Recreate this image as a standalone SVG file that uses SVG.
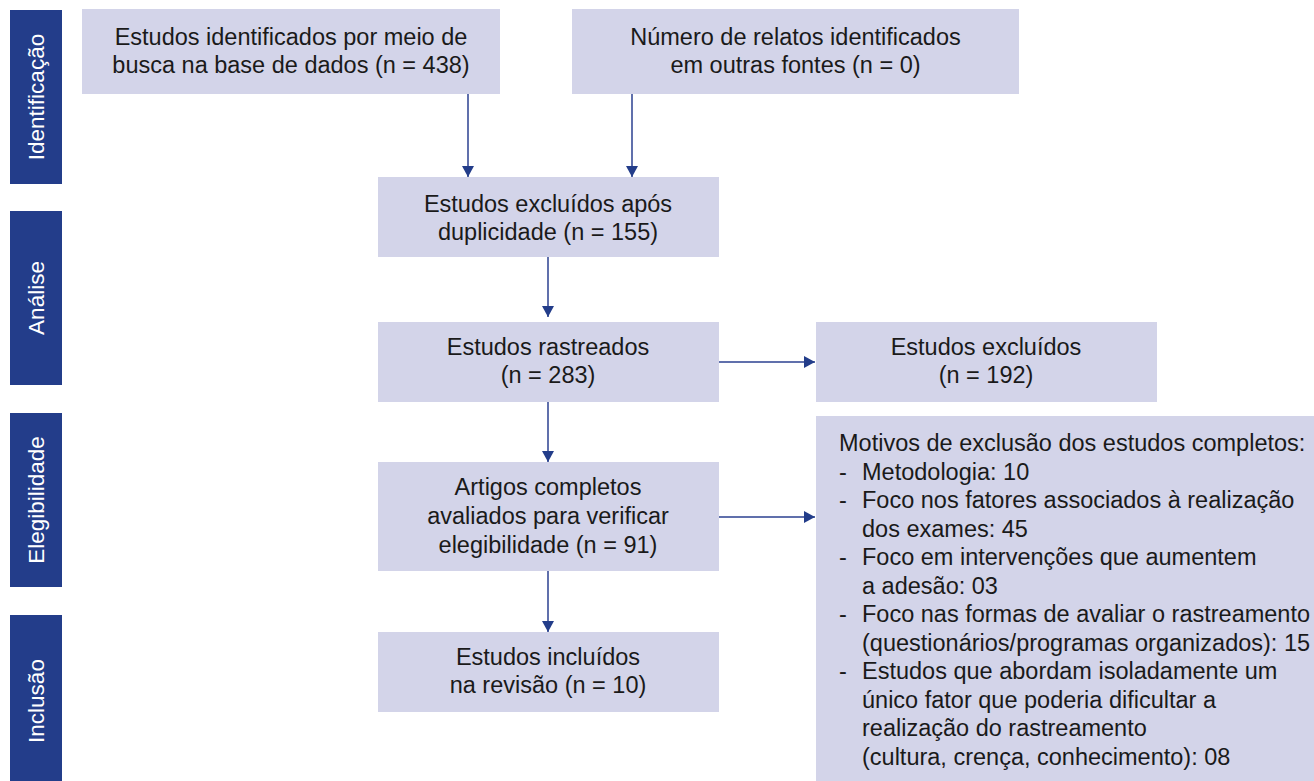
<svg xmlns="http://www.w3.org/2000/svg" width="1314" height="781" viewBox="0 0 1314 781">
<style>
.side{fill:#233d8a}
.stxt{font-family:"Liberation Sans",Arial,sans-serif;font-size:22.5px;fill:#ffffff;text-anchor:middle}
.box{fill:#d3d4e9}
.t{font-family:"Liberation Sans",Arial,sans-serif;font-size:23.5px;fill:#1a1a1a;text-anchor:middle}
.tl{font-family:"Liberation Sans",Arial,sans-serif;font-size:23.5px;fill:#1a1a1a}
.c{stroke:#2b4190;stroke-width:1.5;fill:none;marker-end:url(#ah)}
</style>
<defs>
<marker id="ah" markerUnits="userSpaceOnUse" markerWidth="12" markerHeight="12" refX="11" refY="6" orient="auto">
<path d="M0,0 L11,6 L0,12 Z" fill="#233d8a"/>
</marker>
</defs>
<rect width="1314" height="781" fill="#ffffff"/>
<g id="stage-identificacao"><rect class="side" x="10" y="10" width="52" height="174"/><text class="stxt" transform="translate(44,97) rotate(-90)">Identificação</text></g>
<g id="stage-analise"><rect class="side" x="10" y="211" width="52" height="174"/><text class="stxt" transform="translate(44,298) rotate(-90)">Análise</text></g>
<g id="stage-elegibilidade"><rect class="side" x="10" y="413" width="52" height="174"/><text class="stxt" transform="translate(44,500) rotate(-90)">Elegibilidade</text></g>
<g id="stage-inclusao"><rect class="side" x="10" y="615" width="52" height="172"/><text class="stxt" transform="translate(44,701) rotate(-90)">Inclusão</text></g>
<g id="connectors">
<line class="c" x1="468" y1="94" x2="468" y2="177"/>
<line class="c" x1="632" y1="94" x2="632" y2="177"/>
<line class="c" x1="548" y1="257" x2="548" y2="317"/>
<line class="c" x1="548" y1="402" x2="548" y2="462"/>
<line class="c" x1="548" y1="571" x2="548" y2="632"/>
<line class="c" x1="718" y1="362" x2="815" y2="362"/>
<line class="c" x1="718" y1="517" x2="815" y2="517"/>
</g>
<g id="n-busca"><rect class="box" x="82" y="9" width="418" height="85"/><text class="t" x="291" y="45">Estudos identificados por meio de</text><text class="t" x="291" y="73">busca na base de dados (n = 438)</text></g>
<g id="n-outras"><rect class="box" x="572" y="9" width="447" height="85"/><text class="t" x="795.5" y="45">Número de relatos identificados</text><text class="t" x="795.5" y="73">em outras fontes (n = 0)</text></g>
<g id="n-duplicidade"><rect class="box" x="378" y="177" width="341" height="80"/><text class="t" x="548" y="212">Estudos excluídos após</text><text class="t" x="548" y="240">duplicidade (n = 155)</text></g>
<g id="n-rastreados"><rect class="box" x="378" y="322" width="341" height="80"/><text class="t" x="548" y="355">Estudos rastreados</text><text class="t" x="548" y="383">(n = 283)</text></g>
<g id="n-excluidos"><rect class="box" x="816" y="322" width="341" height="80"/><text class="t" x="986" y="355">Estudos excluídos</text><text class="t" x="986" y="383">(n = 192)</text></g>
<g id="n-artigos"><rect class="box" x="378" y="462" width="341" height="109"/><text class="t" x="548" y="495">Artigos completos</text><text class="t" x="548" y="524">avaliados para verificar</text><text class="t" x="548" y="552.5">elegibilidade (n = 91)</text></g>
<g id="n-incluidos"><rect class="box" x="378" y="632" width="341" height="80"/><text class="t" x="548" y="665">Estudos incluídos</text><text class="t" x="548" y="693">na revisão (n = 10)</text></g>
<g id="n-motivos"><rect class="box" x="816" y="416" width="498" height="365"/>
<text class="tl" x="839" y="451">Motivos de exclusão dos estudos completos:</text>
<text class="tl" x="839" y="479.5">-</text><text class="tl" x="862" y="479.5">Metodologia: 10</text>
<text class="tl" x="839" y="508">-</text><text class="tl" x="862" y="508">Foco nos fatores associados à realização</text>
<text class="tl" x="862" y="536.5">dos exames: 45</text>
<text class="tl" x="839" y="565">-</text><text class="tl" x="862" y="565">Foco em intervenções que aumentem</text>
<text class="tl" x="862" y="593.5">a adesão: 03</text>
<text class="tl" x="839" y="622">-</text><text class="tl" x="862" y="622">Foco nas formas de avaliar o rastreamento</text>
<text class="tl" x="862" y="650.5">(questionários/programas organizados): 15</text>
<text class="tl" x="839" y="679">-</text><text class="tl" x="862" y="679">Estudos que abordam isoladamente um</text>
<text class="tl" x="862" y="707.5">único fator que poderia dificultar a</text>
<text class="tl" x="862" y="736">realização do rastreamento</text>
<text class="tl" x="862" y="764.5">(cultura, crença, conhecimento): 08</text>
</g>
</svg>
